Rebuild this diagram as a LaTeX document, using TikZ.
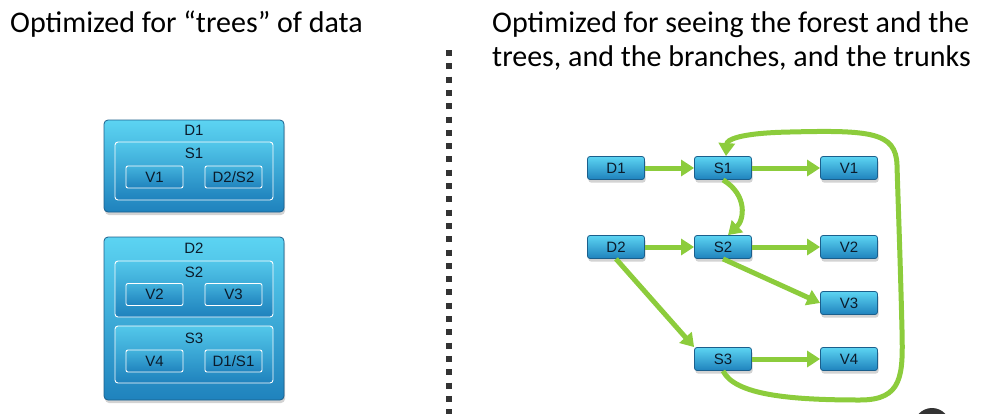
\documentclass[tikz,border=0pt]{standalone}
\usepackage{fontspec}
\setmainfont{Carlito}
\newfontfamily\boxfont{Liberation Sans}
\usetikzlibrary{arrows.meta,shadows}
\definecolor{boxtop}{HTML}{5CD4F2}
\definecolor{boxbottom}{HTML}{1F82BD}
\definecolor{boxedge}{HTML}{1B5F8C}
\definecolor{boxtext}{HTML}{0B1B2B}
\definecolor{flowgreen}{HTML}{8CCC3C}
\definecolor{dots}{HTML}{333333}
\tikzset{outerbox/.style={draw=boxedge, line width=0.8pt, rounded corners=4pt, top color=boxtop, bottom color=boxbottom, inner sep=0pt, drop shadow={opacity=0.35, shadow xshift=1pt, shadow yshift=-3pt}}}
\tikzset{innerbox/.style={draw=white, line width=0.9pt, rounded corners=3pt, top color=boxtop!85!boxbottom, bottom color=boxbottom, inner sep=0pt}}
\tikzset{leafbox/.style={draw=white, line width=0.9pt, rounded corners=2pt, top color=boxtop!60!boxbottom, bottom color=boxbottom, minimum width=57pt, minimum height=22pt, inner sep=0pt}}
\tikzset{flowbox/.style={draw=boxedge, line width=0.8pt, rounded corners=2.5pt, top color=boxtop, bottom color=boxbottom, minimum width=57pt, minimum height=23pt, inner sep=0pt, drop shadow={opacity=0.35, shadow xshift=1pt, shadow yshift=-3pt}}}
\tikzset{flow/.style={draw=flowgreen, line width=5pt, -{Triangle[length=13pt,width=16pt]}}}
\tikzset{divider/.style={draw=dots, line width=6pt, dash pattern=on 6pt off 7.3pt}}
\tikzset{title/.style={font=\fontsize{30}{34}\selectfont, text=black, anchor=base west, inner sep=0pt}}

\begin{document}
\begin{tikzpicture}[x=1pt,y=-1pt]
	\useasboundingbox (0,0) rectangle (985,413);
	% Default action for each node
	\tikzstyle{every node}=[font=\boxfont\fontsize{15}{17}\selectfont, text=boxtext];

	% Titles
	\node[title] (lhs title) at (10,32) {Optimized for “trees” of data};
	\node[title] (rhs title) at (492,32) {Optimized for seeing the forest and the};
	\node[title] (rhs title cont) at (492,66) {trees, and the branches, and the trunks};

	% Divider
	\coordinate (divider top) at (449,50);
	\coordinate (divider bottom) at (449,420);
	\draw[divider] (divider top) -- (divider bottom);

	% LHS
	\node[outerbox, minimum width=180pt, minimum height=92pt] (lhs d1) at (194,166) {};
	\node (lhs d1 name) at (194,130) {D1};
	\node[innerbox, minimum width=158pt, minimum height=58pt] (lhs s1) at (194,171) {};
	\node (lhs s1 name) at (194,153) {S1};
	\node[leafbox] (lhs v1) at (154.5,177) {V1};		\node[leafbox] (lhs d2s2) at (233.5,177) {D2/S2};

	\node[outerbox, minimum width=180pt, minimum height=163pt] (lhs d2) at (194,318.5) {};
	\node (lhs d2 name) at (194,248) {D2};
	\node[innerbox, minimum width=158pt, minimum height=56pt] (lhs s2) at (194,289) {};
	\node (lhs s2 name) at (194,272) {S2};
	\node[leafbox] (lhs v2) at (154.5,294.5) {V2};		\node[leafbox] (lhs v3) at (233.5,294.5) {V3};
	\node[innerbox, minimum width=158pt, minimum height=57pt] (lhs s3) at (194,354.5) {};
	\node (lhs s3 name) at (194,338) {S3};
	\node[leafbox] (lhs v4) at (154.5,361) {V4};		\node[leafbox] (lhs d1s1) at (233.5,361) {D1/S1};

	% RHS
	\node[flowbox] (rhs d1) at (616,168) {D1};	\node[flowbox] (rhs s1) at (723,168) {S1};	\node[flowbox] (rhs v1) at (849,168) {V1};
	\node[flowbox] (rhs d2) at (616,247) {D2};	\node[flowbox] (rhs s2) at (723,247) {S2};	\node[flowbox] (rhs v2) at (849,247) {V2};
																							\node[flowbox] (rhs v3) at (849,303) {V3};
												\node[flowbox] (rhs s3) at (723,359) {S3};	\node[flowbox] (rhs v4) at (849,359) {V4};

	% Straight flows
	\draw[flow] (rhs d1) -- (rhs s1);
	\draw[flow] (rhs s1) -- (rhs v1);
	\draw[flow] (rhs d2) -- (rhs s2);
	\draw[flow] (rhs s2) -- (rhs v2);
	\draw[flow] (rhs s2.south) -- (rhs v3.west);
	\draw[flow] (rhs d2.south) -- (rhs s3.north west);
	\draw[flow] (rhs s3) -- (rhs v4);

	% Curved flows
	\draw[flow] (rhs s1.south) .. controls (748,195) and (744,220) .. ([xshift=5pt]rhs s2.north);
	\draw[flow] (rhs s3.south) .. controls (735,395) and (790,400) .. (860,400)
		.. controls (903,400) and (903,375) .. (902,330)
		.. controls (900,250) and (898,200) .. (897,165)
		.. controls (896,132) and (870,130) .. (790,132)
		.. controls (738,133) and (727,140) .. ([xshift=3pt]rhs s1.north);

	% Corner mark
	\fill[dots] (932,426) circle (18pt);
\end{tikzpicture}
\end{document}
